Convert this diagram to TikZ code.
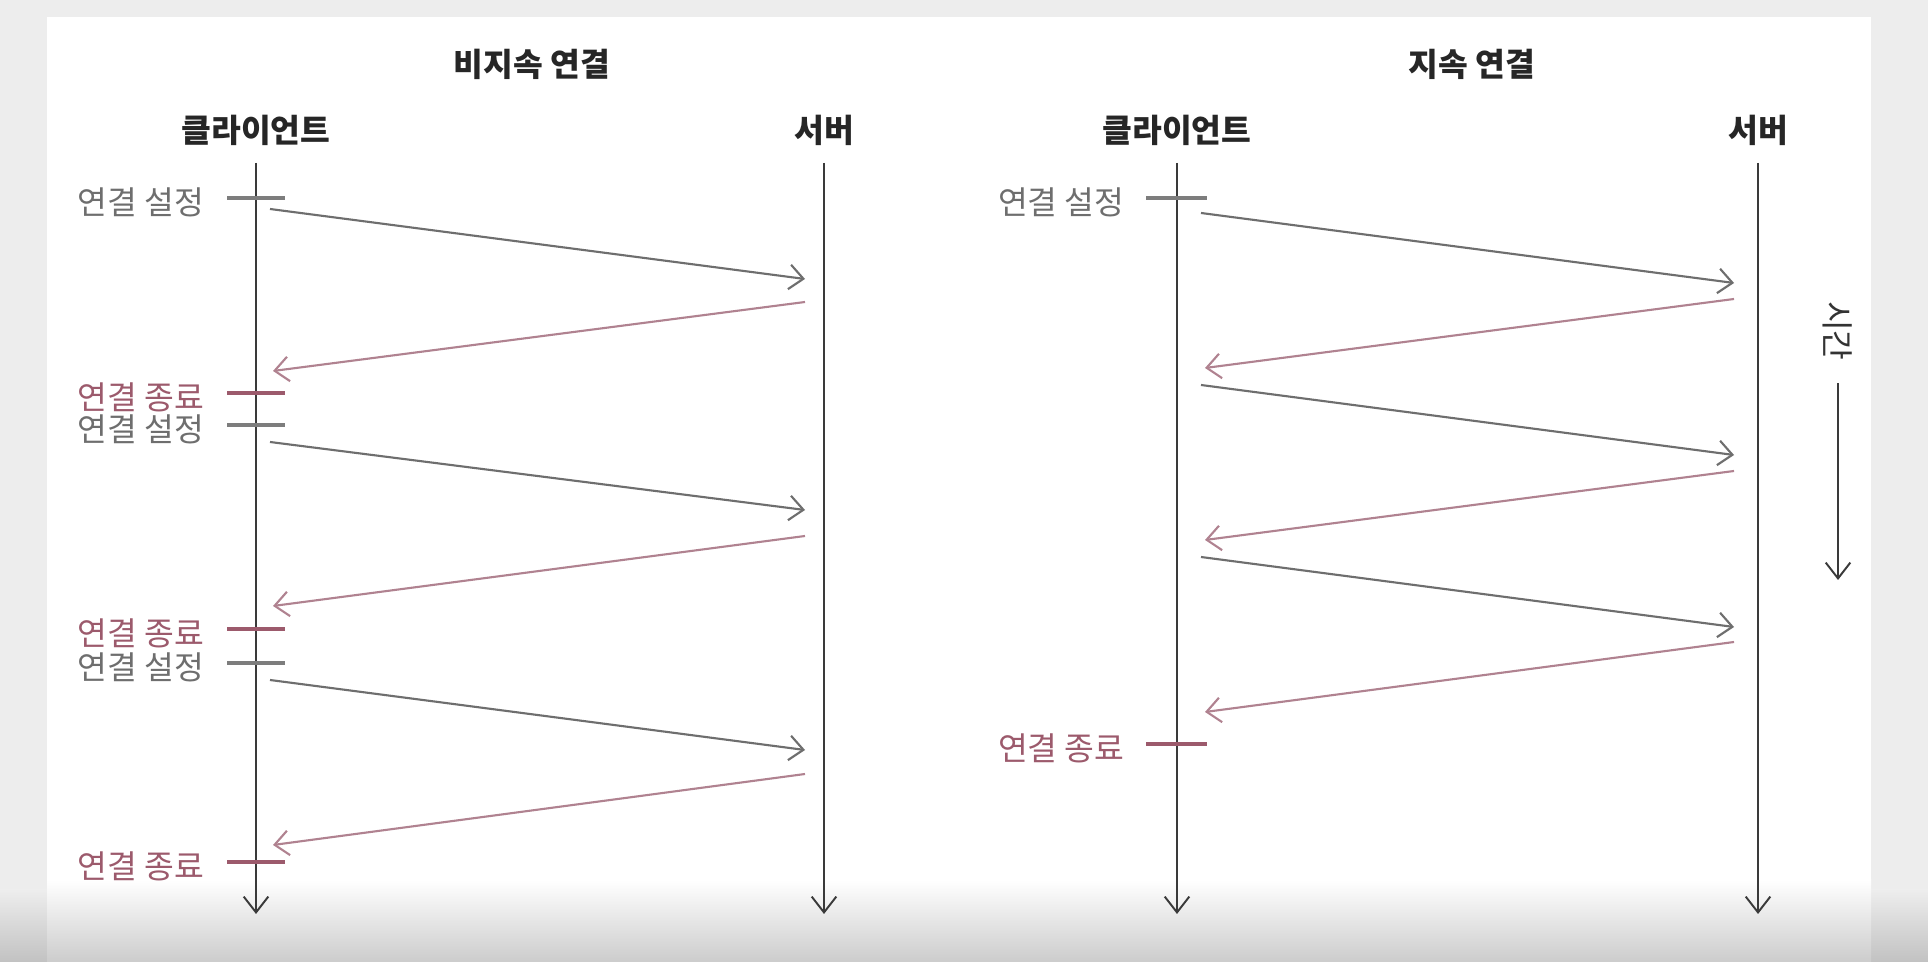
\documentclass[tikz,border=0pt]{standalone}
\usepackage{fontspec}
\setmainfont{Noto Sans CJK KR}
\usetikzlibrary{arrows.meta,positioning}
\definecolor{lifegray}{HTML}{3A3A3A}
\definecolor{reqgray}{HTML}{6E6E6E}
\definecolor{endrose}{HTML}{9C5A6C}
\definecolor{resrose}{HTML}{B08290}

\begin{document}
\begin{tikzpicture}[x=0.01cm, y=-0.01cm,
  title/.style={font=\fontsize{9.2}{11}\selectfont\bfseries, text=black!85, inner sep=2pt},
  lbl/.style={font=\fontsize{9.2}{11}\selectfont, anchor=east, inner sep=0pt},
  life/.style={draw=lifegray, line width=0.55pt, -{Straight Barb[length=4.5pt, width=7pt]}},
  req/.style={draw=reqgray, line width=0.6pt, -{Straight Barb[length=4pt, width=7pt]}},
  res/.style={draw=resrose, line width=0.6pt, -{Straight Barb[length=4pt, width=7pt]}},
  settick/.style={draw=reqgray!90, line width=1.1pt},
  endtick/.style={draw=endrose, line width=1.2pt}
]
\fill[black!7] (0,0) rectangle (1928,962);
\fill[white] (47,17) rectangle (1871,890);
\shade[top color=black!7, bottom color=black!24] (0,890) rectangle (1928,962);
\shade[top color=white, bottom color=black!20] (47,880) rectangle (1871,962);

\node[title] (t1) at (532,64) {비지속 연결};
\node[title] (t2) at (1472,64) {지속 연결};
\node[title] (cl) at (256,130) {클라이언트};
\node[title] (sl) at (824,130) {서버};
\node[title] (cr) at (1177,130) {클라이언트};
\node[title] (sr) at (1758,130) {서버};

\foreach \n/\x in {cl/256, sl/824, cr/1177, sr/1758} {
  \coordinate (\n top) at (\x,163);
  \coordinate (\n bot) at (\x,914);
  \draw[life] (\n top) -- (\n bot);
}

\foreach \y/\k in {198/s1, 425/s2, 663/s3} {
  \draw[settick] (227,\y) -- (285,\y);
  \node[lbl, text=reqgray] (\k) at (205,\y+4) {연결 설정};
}
\foreach \y/\k in {393/e1, 629/e2, 862/e3} {
  \draw[endtick] (227,\y) -- (285,\y);
  \node[lbl, text=endrose] (\k) at (205,\y+4) {연결 종료};
}

\foreach \ya/\yb/\yc/\yd [count=\i] in {209/279/302/371, 442/510/536/606, 680/750/774/845} {
  \coordinate (qa\i) at (270,\ya);
  \coordinate (pa\i) at (805,\yb);
  \coordinate (ra\i) at (805,\yc);
  \coordinate (ua\i) at (273,\yd);
  \draw[req] (qa\i) -- (pa\i);
  \draw[res] (ra\i) -- (ua\i);
}

\draw[settick] (1146,198) -- (1207,198);
\node[lbl, text=reqgray] (s4) at (1125,202) {연결 설정};
\draw[endtick] (1146,744) -- (1207,744);
\node[lbl, text=endrose] (e4) at (1125,748) {연결 종료};

\foreach \ya/\yb/\yc/\yd [count=\i] in {213/283/299/368, 385/455/471/540, 557/627/642/712} {
  \coordinate (qb\i) at (1201,\ya);
  \coordinate (pb\i) at (1734,\yb);
  \coordinate (rb\i) at (1734,\yc);
  \coordinate (ub\i) at (1205,\yd);
  \draw[req] (qb\i) -- (pb\i);
  \draw[res] (rb\i) -- (ub\i);
}

\node[rotate=-90, font=\fontsize{9.2}{11}\selectfont, text=black!80, inner sep=2pt] (time) at (1838,331) {시간};
\coordinate (tend) at (1838,580);
\draw[life, shorten <=1.5mm] (time.east) -- (tend);
\end{tikzpicture}
\end{document}
